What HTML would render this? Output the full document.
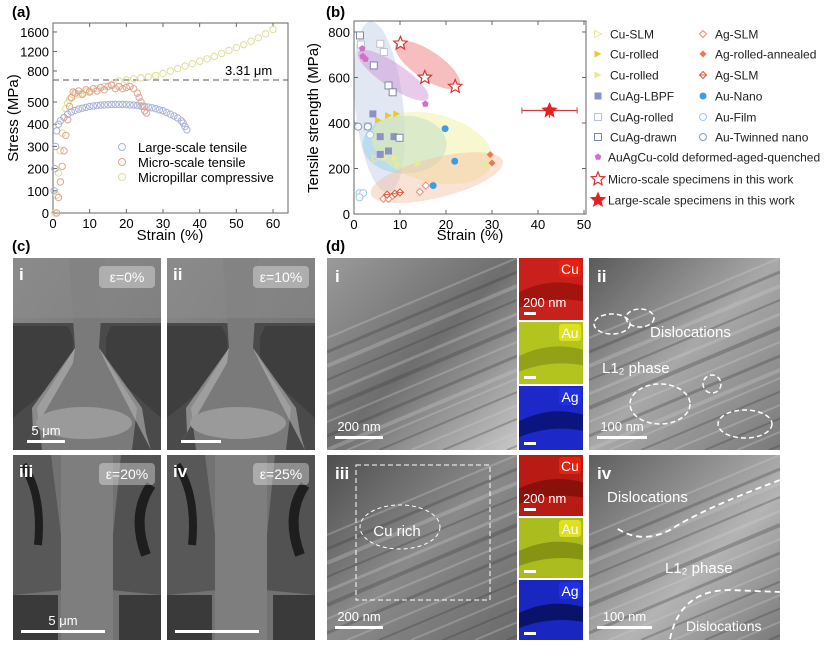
<!DOCTYPE html>
<html><head><meta charset="utf-8"><style>
html,body{margin:0;padding:0;background:#fff;width:827px;height:646px;overflow:hidden;font-family:"Liberation Sans",sans-serif}
svg{display:block}
svg text{font-family:"Liberation Sans",sans-serif}
</style></head><body>
<svg id="fig" width="827" height="646" viewBox="0 0 827 646" xmlns="http://www.w3.org/2000/svg">
<defs id="defs">
<linearGradient id="semBg" x1="0" y1="0" x2="1" y2="1"><stop offset="0" stop-color="#8a8a8a"/><stop offset="1" stop-color="#6a6a6a"/></linearGradient>
<linearGradient id="tem1" x1="0" y1="0" x2="1" y2="1"><stop offset="0" stop-color="#9a9a9a"/><stop offset="0.5" stop-color="#6e6e6e"/><stop offset="1" stop-color="#c8c8c8"/></linearGradient>
<linearGradient id="tem2" x1="0" y1="0" x2="1" y2="1"><stop offset="0" stop-color="#5a5a5a"/><stop offset="0.5" stop-color="#a8a8a8"/><stop offset="1" stop-color="#7a7a7a"/></linearGradient>
<linearGradient id="tem3" x1="0" y1="0" x2="1" y2="1"><stop offset="0" stop-color="#4e4e4e"/><stop offset="0.5" stop-color="#8a8a8a"/><stop offset="1" stop-color="#6a6a6a"/></linearGradient>
<linearGradient id="tem4" x1="0" y1="0" x2="1" y2="1"><stop offset="0" stop-color="#5e5e5e"/><stop offset="0.6" stop-color="#b4b4b4"/><stop offset="1" stop-color="#7a7a7a"/></linearGradient>
<clipPath id="clipB"><rect x="354" y="21" width="232" height="193"/></clipPath>
</defs>
<g id="pa"></g>
<g id="pb"></g>
<g id="pc"></g>
<g id="pd"></g>
</svg>
<script>
// ---------- Panel (a) data ----------
const aTicksLow=[0,100,200,300,400,500];
const aTicksHigh=[800,1200,1600];
const aTicksX=[0,10,20,30,40,50,60];
const largeStrain=[0.3,0.5,0.7,1,1.5,2,3,4,5,6,7,8,9,10,11,12,13,14,15,16,17,18,19,20,21,22,23,24,25,26,27,28,29,30,31,32,33,34,35,35.5,36,36.5];
const largeStress=[100,200,300,370,400,415,430,445,455,462,468,472,476,480,482,484,486,487,488,489,489,489,489,488,487,486,484,482,480,477,474,470,465,460,453,445,437,428,415,405,390,375];
const microStrain=[1,1.5,2,2.5,3,3.5,4,4.5,5,5.5,6,7,8,9,10,11,12,13,14,15,16,17,18,19,20,21,22,23,23.5,24,24.5,25,25.5];
const microStress=[0,70,140,210,280,350,420,480,520,545,540,550,535,555,545,560,550,565,555,570,575,560,570,560,565,570,560,540,520,500,480,460,450];
const pillarStrain=[0.5,1,1.5,2,2.5,3,3.5,4,4.5,5,6,7,8,9,10,12,14,16,18,20,22,24,26,28,30,32,34,36,38,40,42,44,46,48,50,52,54,56,58,60];
const pillarStress=[0,80,180,280,360,430,470,495,510,520,530,535,540,545,550,560,570,580,595,610,640,660,680,710,750,800,850,900,950,1000,1050,1100,1160,1220,1280,1340,1410,1480,1560,1650];
// ---------- Panel (b) data ----------
const bTicksX=[0,10,20,30,40,50];
const bTicksY=[0,200,400,600,800];
const cuSlmX=[4.8], cuSlmY=[243];
const cuRolledX=[5.3,7.5,9.3], cuRolledY=[412,433,440];
const cuRolled2X=[6.7,9,9.6,14,28.8], cuRolled2Y=[247,247,218,221,217];
const cuagLbpfX=[4.1,5.7,8.7,7.5,5.7], cuagLbpfY=[440,340,340,277,262];
const cuagRolledX=[1.5,5.7,6.5,3], cuagRolledY=[745,748,712,385];
const cuagDrawnX=[1.3,4.3,7.5,8.4,9.9], cuagDrawnY=[785,653,565,535,335];
const auagcuX=[1.8,1.9,2.5,15.5], auagcuY=[727,693,681,484];
const agSlmX=[14.3,15.6,6.4,7.5,8.4], agSlmY=[97,125,67,67,80];
const agRollX=[29.6,30], agRollY=[261,224];
const agSlm2X=[7.2,8.9,10], agSlm2Y=[85,89,95];
const auNanoX=[19.8,21.9,17.2], auNanoY=[375,232,125];
const auFilmX=[1.2,2,1.2,3.5], auFilmY=[92,92,73,348];
const auTwinX=[0.9,3], auTwinY=[384,384];
const microStarX=[10.1,15.4,22], microStarY=[750,600,560];
const largeStarX=[42.5], largeStarY=[455], largeErrX=[6], largeErrY=[32];

const NS="http://www.w3.org/2000/svg";
function mk(tag,attrs,parent,txt){const e=document.createElementNS(NS,tag);for(const k in attrs)e.setAttribute(k,attrs[k]);if(txt!==undefined)e.textContent=txt;parent.appendChild(e);return e;}
const defs=document.getElementById('defs');
let clipN=0;
function clipRect(x,y,w,h){const id='cl'+(clipN++);const c=mk('clipPath',{id:id},defs);mk('rect',{x:x,y:y,width:w,height:h},c);return 'url(#'+id+')';}

// ===== Panel A =====
const pa=document.getElementById('pa');
const AX0=53,AX1=288,AY0=213,AY1=23;
function ax(v){return AX0+v*3.667;}
function ay(v){return v<=600?AY0-v*0.222:Math.min(80,71-(v-800)*0.0488);}
let t=mk('text',{x:12,y:17,'font-size':15,'font-weight':'bold'},pa,'(a)');

let fr=mk('rect',{x:AX0,y:AY1,width:AX1-AX0,height:AY0-AY1,fill:'none',stroke:'#666','stroke-width':1},pa);

let dl=mk('line',{x1:AX0,y1:80,x2:AX1,y2:80,stroke:'#777','stroke-width':1.3,'stroke-dasharray':'6,4'},pa);

aTicksLow.forEach(v=>{const y=ay(v);mk('line',{x1:AX0,y1:y,x2:AX0+4,y2:y,stroke:'#666'},pa);
 const l=mk('text',{x:AX0-4,y:y+5,'font-size':13,'text-anchor':'end'},pa,v);
 });
aTicksHigh.forEach(v=>{const y=ay(v);mk('line',{x1:AX0,y1:y,x2:AX0+4,y2:y,stroke:'#666'},pa);
 const l=mk('text',{x:AX0-4,y:y+5,'font-size':13,'text-anchor':'end'},pa,v);
 });
aTicksX.forEach(v=>{const x=ax(v);mk('line',{x1:x,y1:AY0,x2:x,y2:AY0-4,stroke:'#666'},pa);mk('line',{x1:x,y1:AY1,x2:x,y2:AY1+4,stroke:'#666'},pa);
 const l=mk('text',{x:x,y:AY0+15,'font-size':13,'text-anchor':'middle'},pa,v);
 });
t=mk('text',{x:170,y:240,'font-size':15,'text-anchor':'middle'},pa,'Strain (%)');

t=mk('text',{x:0,y:0,'font-size':15,'text-anchor':'middle',transform:'translate(18,118) rotate(-90)'},pa,'Stress (MPa)');

t=mk('text',{x:225,y:75,'font-size':13},pa,'3.31 μm');

function series(xs,ys,col,name){const g=mk('g',{},pa);
 xs.forEach((x,i)=>{const c=mk('circle',{cx:ax(x),cy:ay(ys[i]),r:3.2,fill:'none',stroke:col,'stroke-width':1},g);
 });}
series(pillarStrain,pillarStress,'#dede9a','series-micropillar-compressive');
series(largeStrain,largeStress,'#aab3d6','series-large-scale-tensile');
series(microStrain,microStress,'#e0a393','series-micro-scale-tensile');
[['#aab3d6','Large-scale tensile'],['#e0a393','Micro-scale tensile'],['#dede9a','Micropillar compressive']].forEach((d,i)=>{
 const g=mk('g',{},pa);
 mk('circle',{cx:122,cy:147+i*15,r:3.5,fill:'none',stroke:d[0]},g);
 mk('text',{x:138,y:152+i*15,'font-size':13},g,d[1]);});

// ===== Panel B =====
const pb=document.getElementById('pb');
const BX0=354,BX1=586,BY0=214,BY1=21;
function bx(v){return BX0+v*4.6;}
function by(v){return BY0-v*0.2275;}
t=mk('text',{x:326,y:17,'font-size':15,'font-weight':'bold'},pb,'(b)');

const regions=mk('g',{'clip-path':'url(#clipB)'},pb);

[[5.5,470,24,86,-6,'rgba(205,215,235,0.6)','region-cuag'],
 [11,305,42,29,0,'rgba(150,210,235,0.5)','region-au'],
 [17,290,62,34,14,'rgba(240,240,150,0.45)','region-cu'],
 [18,160,68,20,-14,'rgba(245,190,160,0.45)','region-ag'],
 [8.5,610,42,12,34,'rgba(205,140,210,0.45)','region-auagcu'],
 [16,655,38,14,34,'rgba(235,110,110,0.45)','region-micro-scale']].forEach(e=>{
 const el=mk('ellipse',{cx:bx(e[0]),cy:by(e[1]),rx:e[2],ry:e[3],transform:`rotate(${e[4]} ${bx(e[0])} ${by(e[1])})`,fill:e[5]},regions);
 });
fr=mk('rect',{x:BX0,y:BY1,width:BX1-BX0,height:BY0-BY1,fill:'none',stroke:'#666'},pb);

bTicksX.forEach(v=>{const x=bx(v);mk('line',{x1:x,y1:BY0,x2:x,y2:BY0-4,stroke:'#666'},pb);mk('line',{x1:x,y1:BY1,x2:x,y2:BY1+4,stroke:'#666'},pb);
 const l=mk('text',{x:x,y:BY0+15,'font-size':13,'text-anchor':'middle'},pb,v);
 });
bTicksY.forEach(v=>{const y=by(v);mk('line',{x1:BX0,y1:y,x2:BX0+4,y2:y,stroke:'#666'},pb);mk('line',{x1:BX1,y1:y,x2:BX1-4,y2:y,stroke:'#666'},pb);
 const l=mk('text',{x:BX0-4,y:y+5,'font-size':13,'text-anchor':'end'},pb,v);
 });
t=mk('text',{x:470,y:240,'font-size':15,'text-anchor':'middle'},pb,'Strain (%)');

t=mk('text',{x:0,y:0,'font-size':15,'text-anchor':'middle',transform:'translate(318,118) rotate(-90)'},pb,'Tensile strength (MPa)');


function marker(g,type,x,y,fill,stroke,s){
 s=s||3.5;
 if(type==='sq')return mk('rect',{x:x-s,y:y-s,width:2*s,height:2*s,fill:fill,stroke:stroke},g);
 if(type==='ci')return mk('circle',{cx:x,cy:y,r:s,fill:fill,stroke:stroke},g);
 if(type==='tri')return mk('polygon',{points:`${x-s},${y-s} ${x+s},${y} ${x-s},${y+s}`,fill:fill,stroke:stroke},g);
 if(type==='dia')return mk('polygon',{points:`${x},${y-s} ${x+s},${y} ${x},${y+s} ${x-s},${y}`,fill:fill,stroke:stroke},g);
 if(type==='diax'){const p=mk('g',{},g);mk('polygon',{points:`${x},${y-s} ${x+s},${y} ${x},${y+s} ${x-s},${y}`,fill:fill,stroke:stroke},p);mk('line',{x1:x-s,y1:y,x2:x+s,y2:y,stroke:stroke},p);return p;}
 if(type==='pent'){let pts=[];for(let k=0;k<5;k++){const a=-Math.PI/2+k*2*Math.PI/5;pts.push((x+s*Math.cos(a)).toFixed(1)+','+(y+s*Math.sin(a)).toFixed(1));}return mk('polygon',{points:pts.join(' '),fill:fill,stroke:stroke},g);}
 if(type==='star'){let pts=[];for(let k=0;k<10;k++){const a=-Math.PI/2+k*Math.PI/5;const r=k%2?s*0.45:s;pts.push((x+r*Math.cos(a)).toFixed(1)+','+(y+r*Math.sin(a)).toFixed(1));}return mk('polygon',{points:pts.join(' '),fill:fill,stroke:stroke,'stroke-width':1.2},g);}
}
const bSeries=[
 [cuSlmX,cuSlmY,'tri','none','#e8e8a0','series-cu-slm'],
 [cuRolled2X,cuRolled2Y,'tri','#eaea90','none','series-cu-rolled-2'],
 [cuRolledX,cuRolledY,'tri','#e6cc2a','none','series-cu-rolled'],
 [cuagLbpfX,cuagLbpfY,'sq','#8a93c4','none','series-cuag-lbpf'],
 [cuagRolledX,cuagRolledY,'sq','#fff','#bcc4d8','series-cuag-rolled'],
 [cuagDrawnX,cuagDrawnY,'sq','#fff','#7c88a8','series-cuag-drawn'],
 [auagcuX,auagcuY,'pent','#d36fc8','none','series-auagcu'],
 [agSlmX,agSlmY,'dia','#fff','#e0907a','series-ag-slm'],
 [agRollX,agRollY,'dia','#e87a55','none','series-ag-rolled-annealed'],
 [agSlm2X,agSlm2Y,'diax','#fff','#d85a3a','series-ag-slm-2'],
 [auNanoX,auNanoY,'ci','#3a9ee0','none','series-au-nano'],
 [auFilmX,auFilmY,'ci','#fff','#9ccbe8','series-au-film'],
 [auTwinX,auTwinY,'ci','#fff','#7f9fb8','series-au-twinned-nano'],
 [microStarX,microStarY,'star','#fff','#e03030','series-micro-scale-this-work']];
bSeries.forEach(s=>{const g=mk('g',{},pb);
 s[0].forEach((v,i)=>{const m=marker(g,s[2],bx(v),by(s[1][i]),s[3],s[4],s[2]==='star'?7:3.5);
 });});
{const g=mk('g',{},pb);
 largeStarX.forEach((v,i)=>{const x=bx(v),y=by(largeStarY[i]);
 mk('line',{x1:bx(v-largeErrX[i]),y1:y,x2:bx(v+largeErrX[i]),y2:y,stroke:'#d04040','stroke-width':1.2},g);
 mk('line',{x1:x,y1:by(largeStarY[i]-largeErrY[i]),x2:x,y2:by(largeStarY[i]+largeErrY[i]),stroke:'#d04040','stroke-width':1.2},g);
 [bx(v-largeErrX[i]),bx(v+largeErrX[i])].forEach(xx=>mk('line',{x1:xx,y1:y-3,x2:xx,y2:y+3,stroke:'#d04040'},g));
 const m=marker(g,'star',x,y,'#e52020','#e52020',7);});}
// legend
const legB=[
 [598,34,'tri','none','#e8e8a0','Cu-SLM'],[598,54,'tri','#e6cc2a','none','Cu-rolled'],[598,75,'tri','#eaea90','none','Cu-rolled'],
 [598,96,'sq','#8a93c4','none','CuAg-LBPF'],[598,117,'sq','#fff','#bcc4d8','CuAg-rolled'],[598,137,'sq','#fff','#7c88a8','CuAg-drawn'],
 [703,34,'dia','#fff','#e0907a','Ag-SLM'],[703,54,'dia','#e87a55','none','Ag-rolled-annealed'],[703,75,'diax','#fff','#d85a3a','Ag-SLM'],
 [703,96,'ci','#3a9ee0','none','Au-Nano'],[703,117,'ci','#fff','#9ccbe8','Au-Film'],[703,137,'ci','#fff','#7f9fb8','Au-Twinned nano'],
 [598,157,'pent','#d36fc8','none','AuAgCu-cold deformed-aged-quenched'],
 [598,179,'star','#fff','#e03030','Micro-scale specimens in this work'],[598,200,'star','#e52020','#e52020','Large-scale specimens in this work']];
legB.forEach(d=>{const g=mk('g',{},pb);
 marker(g,d[2],d[0],d[1],d[3],d[4],d[2]==='star'?7:3.5);
 mk('text',{x:d[2]==='pent'||d[2]==='star'?608:d[0]+12,y:d[1]+4.5,'font-size':12,fill:'#222'},g,d[5]);});

// ===== Panel C (SEM) =====
const pc=document.getElementById('pc');
t=mk('text',{x:12,y:251,'font-size':15,'font-weight':'bold'},pc,'(c)');

function sem(x,y,w,h,lab,eps,top,barLab,barW){
 const g=mk('g',{'clip-path':clipRect(x,y,w,h)},pc);
 mk('rect',{x:x,y:y,width:w,height:h,fill:'url(#semBg)'},g);
 const cx=x+w/2;
 if(top){
  mk('rect',{x:x,y:y+65,width:w,height:h-65,fill:'#4a4a4a'},g);
  mk('polygon',{points:`${x},${y+68} ${x+55},${y+68} ${x+60},${y+80} ${x+60},${y+110} ${x},${y+160}`,fill:'#3e3e3e'},g);
  mk('polygon',{points:`${x+w},${y+68} ${x+w-50},${y+68} ${x+w-55},${y+80} ${x+w-55},${y+110} ${x+w},${y+160}`,fill:'#3e3e3e'},g);
  mk('polygon',{points:`${cx-18},${y} ${cx+18},${y} ${cx+12},${y+90} ${cx+50},${y+150} ${cx+45},${y+h} ${cx-45},${y+h} ${cx-50},${y+150} ${cx-12},${y+90}`,fill:'#7a7a7a'},g);
  mk('polygon',{points:`${x+60},${y+105} ${cx-12},${y+90} ${cx-55},${y+150} ${x+20},${y+175} ${x+10},${y+h}`,fill:'#b5b5b5',opacity:0.6},g);
  mk('polygon',{points:`${x+w-55},${y+105} ${cx+12},${y+90} ${cx+55},${y+150} ${x+w-15},${y+175} ${x+w-10},${y+h}`,fill:'#b5b5b5',opacity:0.6},g);
  mk('ellipse',{cx:cx-3,cy:y+165,rx:48,ry:16,fill:'#9a9a9a'},g);
  mk('rect',{x:x,y:y,width:w,height:60,fill:'#8c8c8c',opacity:0.5},g);
 } else {
  mk('rect',{x:x,y:y,width:w,height:h,fill:'#727272'},g);
  mk('rect',{x:x,y:y+140,width:45,height:h-140,fill:'#3a3a3a'},g);
  mk('rect',{x:x+w-42,y:y+140,width:42,height:h-140,fill:'#3a3a3a'},g);
  mk('polygon',{points:`${x},${y} ${x+38},${y} ${x+48},${y+80} ${x+50},${y+135} ${x},${y+140}`,fill:'#585858'},g);
  mk('polygon',{points:`${x+w},${y} ${x+w-40},${y} ${x+w-48},${y+80} ${x+w-50},${y+135} ${x+w},${y+140}`,fill:'#525252'},g);
  mk('rect',{x:cx-26,y:y,width:52,height:h,fill:'#7e7e7e'},g);
  mk('path',{d:`M${x+10},${y+10} q 20,30 15,80`,stroke:'#1e1e1e','stroke-width':8,fill:'none'},g);
  mk('path',{d:`M${x+w-10},${y+30} q -20,30 -5,70`,stroke:'#1e1e1e','stroke-width':10,fill:'none'},g);
 }
 const b=mk('rect',{x:x+w-62,y:y+8,width:56,height:22,rx:4,fill:'#ffffff',opacity:0.35},g);
 
 mk('text',{x:x+w-34,y:y+24,'font-size':14,'text-anchor':'middle',fill:'#fff'},g,'ε='+eps);
 mk('text',{x:x+6,y:y+22,'font-size':17,'font-weight':'bold',fill:'#fff'},g,lab);
 mk('rect',{x:x+(top?14:8),y:y+h-10,width:barW,height:3,fill:'#fff'},g);
 if(barLab)mk('text',{x:x+(top?14:8)+barW/2,y:y+h-15,'font-size':13,'text-anchor':'middle',fill:'#fff'},g,barLab);
}
sem(13,258,148,192,'i','0%',true,'5 μm',38);
sem(167,258,148,192,'ii','10%',true,'',40);
sem(13,455,148,185,'iii','20%',false,'5 μm',84);
sem(167,455,148,185,'iv','25%',false,'',84);

// ===== Panel D (TEM) =====
const pd=document.getElementById('pd');
t=mk('text',{x:326,y:251,'font-size':15,'font-weight':'bold'},pd,'(d)');

function tem(x,y,w,h,grad,lab,bar,barW,name){
 const g=mk('g',{'clip-path':clipRect(x,y,w,h)},pd);
 mk('rect',{x:x,y:y,width:w,height:h,fill:`url(#${grad})`},g);
 for(let k=0;k<9;k++){const a=80+k*14;if(a>h)break;
  mk('line',{x1:x,y1:y+a,x2:x+w,y2:y+a-80,stroke:k%2?'#3a3a3a':'#d0d0d0','stroke-width':k%3+2,opacity:0.3},g);}
 for(let k=0;k<6;k++){const b2=10+k*16;mk('line',{x1:x+b2*2,y1:y+h,x2:x+w,y2:y+h-(w-b2*2)*0.42,stroke:k%2?'#3a3a3a':'#d0d0d0','stroke-width':2,opacity:0.3},g);}
 mk('text',{x:x+8,y:y+24,'font-size':17,'font-weight':'bold',fill:'#fff'},g,lab);
 mk('rect',{x:x+8,y:y+h-14,width:barW,height:3,fill:'#fff'},g);
 mk('text',{x:x+8+barW/2,y:y+h-19,'font-size':13,'text-anchor':'middle',fill:'#fff'},g,bar);
 return g;
}
tem(327,258,190,192,'tem1','i','200 nm',48,'tem-image-i');
let g2=tem(589,258,191,192,'tem2','ii','100 nm',50,'tem-image-ii');
mk('text',{x:650,y:337,'font-size':15,fill:'#fff'},g2,'Dislocations');
mk('text',{x:602,y:373,'font-size':15,fill:'#fff'},g2,'L1₂ phase');
[[612,324,18,10],[640,318,14,9],[660,404,30,20],[712,384,9,9],[745,424,27,14]].forEach(e=>mk('ellipse',{cx:e[0],cy:e[1],rx:e[2],ry:e[3],fill:'none',stroke:'#fff','stroke-width':1.5,'stroke-dasharray':'5,3'},g2));
let g3=tem(327,455,190,185,'tem3','iii','200 nm',48,'tem-image-iii');
mk('rect',{x:356,y:465,width:134,height:135,fill:'none',stroke:'#fff','stroke-width':1,'stroke-dasharray':'5,3'},g3);
mk('ellipse',{cx:400,cy:527,rx:40,ry:22,fill:'none',stroke:'#fff','stroke-width':1,'stroke-dasharray':'4,3'},g3);
mk('text',{x:397,y:536,'font-size':15,fill:'#fff','text-anchor':'middle'},g3,'Cu rich');
let g4=tem(589,455,191,185,'tem4','iv','100 nm',55,'tem-image-iv');
mk('text',{x:607,y:502,'font-size':15,fill:'#fff'},g4,'Dislocations');
mk('text',{x:665,y:573,'font-size':15,fill:'#fff'},g4,'L1₂ phase');
mk('text',{x:686,y:631,'font-size':14,fill:'#fff'},g4,'Dislocations');
mk('path',{d:'M780,480 Q700,510 670,530 Q640,545 615,527',fill:'none',stroke:'#fff','stroke-width':1.8,'stroke-dasharray':'6,4'},g4);
mk('path',{d:'M670,639 Q680,590 730,590 L780,592',fill:'none',stroke:'#fff','stroke-width':1.8,'stroke-dasharray':'6,4'},g4);
// EDS maps
function eds(x,y,w,h,fill,dark,lab,labBg,name,bar){
 const g=mk('g',{'clip-path':clipRect(x,y,w,h)},pd);
 mk('rect',{x:x,y:y,width:w,height:h,fill:fill},g);
 mk('path',{d:`M${x},${y+h*0.55} Q${x+w/2},${y+h*0.3} ${x+w},${y+h*0.45} L${x+w},${y+h*0.7} Q${x+w/2},${y+h*0.6} ${x},${y+h*0.8}Z`,fill:dark,opacity:0.6},g);
 mk('rect',{x:x+w-24,y:y+2,width:22,height:17,rx:3,fill:labBg},g);
 mk('text',{x:x+w-13,y:y+16,'font-size':14,'text-anchor':'middle',fill:'#fff'},g,lab);
 mk('rect',{x:x+5,y:y+h-8,width:12,height:3,fill:'#fff'},g);
 if(bar)mk('text',{x:x+4,y:y+h-13,'font-size':13,fill:'#fff'},g,bar);
}
eds(519,258,64,62,'#c8201a','#8a0e08','Cu','#e82010','eds-cu-top','200 nm');
eds(519,322,64,62,'#b4c41e','#7c8a10','Au','#e0e020','eds-au-top','');
eds(519,386,64,64,'#1c28c8','#000850','Ag','#2030e0','eds-ag-top','');
eds(519,455,64,61,'#b81a14','#6a0a06','Cu','#e82010','eds-cu-bottom','200 nm');
eds(519,518,64,60,'#aabc1e','#6e7a0e','Au','#e0e020','eds-au-bottom','');
eds(519,580,64,60,'#1a26c0','#000630','Ag','#2030e0','eds-ag-bottom','');
</script>
</body></html>
